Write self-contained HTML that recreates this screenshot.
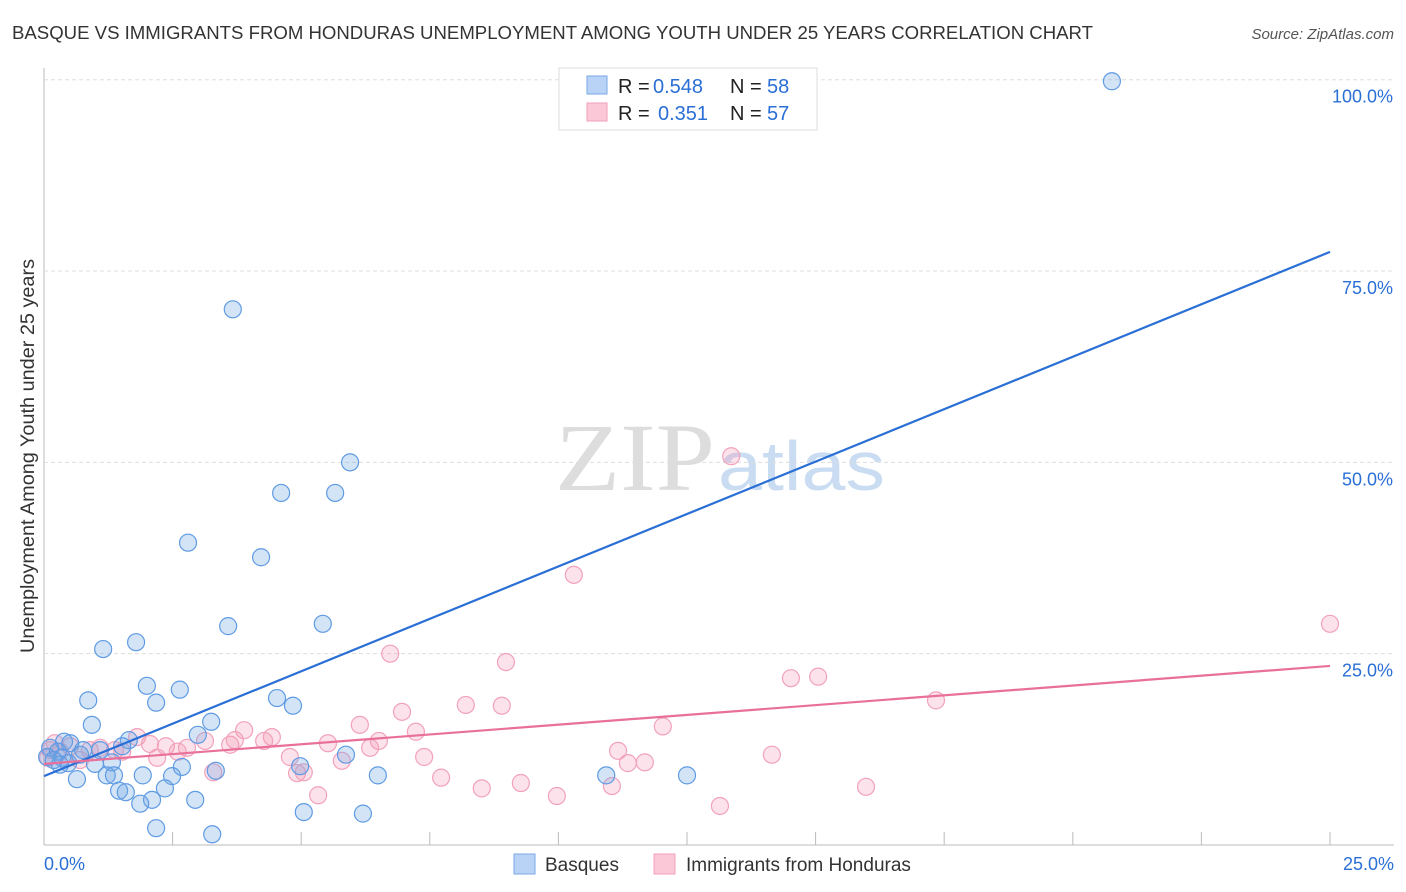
<!DOCTYPE html>
<html><head><meta charset="utf-8"><style>
body{margin:0;background:#fff;font-family:"Liberation Sans",sans-serif;}
svg{display:block}
</style></head><body>
<svg id="chart" width="1406" height="892">
<text x="12" y="39" font-size="18" fill="#333" textLength="1081" lengthAdjust="spacingAndGlyphs">BASQUE VS IMMIGRANTS FROM HONDURAS UNEMPLOYMENT AMONG YOUTH UNDER 25 YEARS CORRELATION CHART</text>
<text x="1394" y="39" font-size="15" fill="#555" font-style="italic" text-anchor="end">Source: ZipAtlas.com</text>
<text transform="translate(34,456) rotate(-90)" font-size="19" fill="#333" text-anchor="middle" textLength="394" lengthAdjust="spacingAndGlyphs">Unemployment Among Youth under 25 years</text>
<g><text x="555" y="490" font-size="96" fill="#ddd" font-family="Liberation Serif,serif" textLength="160" lengthAdjust="spacingAndGlyphs">ZIP</text><text x="718" y="490" font-size="70" fill="#c9dcf2" textLength="167" lengthAdjust="spacingAndGlyphs">atlas</text></g>
<g id="grid"></g><g id="pts"></g><g id="lines"></g>
<g>
<rect x="559" y="68" width="258" height="62" fill="#fff" stroke="#ddd"/>
<rect x="587" y="76" width="20" height="18" fill="#b8d3f5" stroke="#7aaae8"/>
<rect x="587" y="103" width="20" height="18" fill="#fbc8d8" stroke="#f0a0b8"/>
<text x="618" y="93" font-size="20" fill="#222">R =</text><text x="653" y="93" font-size="20" fill="#2a6fd6">0.548</text>
<text x="730" y="93" font-size="20" fill="#222">N =</text><text x="767" y="93" font-size="20" fill="#2a6fd6">58</text>
<text x="618" y="120" font-size="20" fill="#222">R =</text><text x="658" y="120" font-size="20" fill="#2a6fd6">0.351</text>
<text x="730" y="120" font-size="20" fill="#222">N =</text><text x="767" y="120" font-size="20" fill="#2a6fd6">57</text>
</g>
<g>
<rect x="514" y="854" width="21" height="20" fill="#b8d3f5" stroke="#7aaae8"/>
<text x="545" y="871" font-size="19" fill="#333">Basques</text>
<rect x="654" y="854" width="21" height="20" fill="#fbc8d8" stroke="#f0a0b8"/>
<text x="686" y="871" font-size="19" fill="#333">Immigrants from Honduras</text>
</g>
</svg>
<script>
const blueX=[20.76,3.67,5.95,4.61,5.66,2.80,4.22,3.58,5.42,1.79,1.15,2.00,2.64,0.86,2.18,4.53,4.84,0.93,3.25,2.99,1.65,1.52,0.39,0.51,0.12,0.27,0.76,1.09,0.06,0.35,1.32,0.99,0.47,2.68,5.87,3.34,1.22,1.36,1.92,2.49,6.49,10.93,12.50,0.64,2.35,1.46,1.59,2.10,1.87,2.94,5.05,6.20,2.18,3.27,4.98,0.31,0.19,0.70];
const blueY=[99.8,70.0,50.0,46.0,46.0,39.5,37.6,28.6,28.9,26.5,25.6,20.8,20.3,18.9,18.6,19.2,18.2,15.7,16.1,14.4,13.7,12.9,13.5,13.3,12.7,12.2,12.4,12.4,11.5,11.4,10.8,10.6,10.7,10.2,11.8,9.7,9.1,9.1,9.1,9.0,9.1,9.1,9.1,8.6,7.4,7.1,6.9,5.9,5.4,5.9,4.3,4.1,2.2,1.4,10.3,10.5,11.1,11.8];
const pinkX=[13.36,10.30,25.0,6.73,8.98,14.52,15.05,17.34,8.20,8.90,6.96,6.14,12.03,7.23,3.89,4.43,1.81,3.13,4.28,5.52,6.51,3.62,2.37,2.78,1.09,0.51,0.21,0.31,1.38,6.34,11.16,4.78,7.39,14.15,5.79,11.35,11.68,2.20,1.52,3.29,4.92,5.05,7.72,8.51,9.27,11.04,15.98,9.97,5.33,13.14,2.60,0.70,0.89,2.06,0.12,3.71,0.08];
const pinkY=[50.8,35.3,28.9,25.0,23.9,21.8,22.0,18.9,18.3,18.2,17.4,15.7,15.5,14.8,15.0,14.1,14.1,13.6,13.6,13.3,13.6,13.1,12.9,12.7,12.7,12.9,13.3,12.2,12.4,12.7,12.3,11.5,11.5,11.8,11.0,10.7,10.8,11.4,12.2,9.5,9.4,9.5,8.8,7.4,8.1,7.7,7.6,6.4,6.5,5.1,12.2,11.1,12.4,13.2,12.4,13.7,11.4];
const blueTrend=[9.0,77.5];
const pinkTrend=[10.6,23.4];
const yTicks=[25,50,75,100];
const yTickLabels=["25.0%","50.0%","75.0%","100.0%"];
const xTicks=[2.5,5,7.5,10,12.5,15,17.5,20,22.5,25];
const NS="http://www.w3.org/2000/svg";
const sx=v=>44+v/25*1286;
const sy=v=>845-v*7.653;
function mk(tag,attrs,parent){const e=document.createElementNS(NS,tag);for(const k in attrs)e.setAttribute(k,attrs[k]);parent.appendChild(e);return e;}
const grid=document.getElementById('grid');
let ax=mk('line',{x1:44,y1:68,x2:44,y2:845,stroke:'#bbb'},grid);


let bx=mk('line',{x1:44,y1:845,x2:1394,y2:845,stroke:'#bbb'},grid);


yTicks.forEach((t,i)=>{
 const g=mk('line',{x1:44,y1:sy(t),x2:1394,y2:sy(t),stroke:'#ddd','stroke-dasharray':'4 3'},grid);
 
 
 const l=mk('text',{x:1393,y:sy(t)+23,'font-size':18,fill:'#2a6fd6','text-anchor':'end'},grid);
 l.textContent=yTickLabels[i];
 
 
});
xTicks.forEach(t=>{
 const m=mk('line',{x1:sx(t),y1:832,x2:sx(t),y2:845,stroke:'#bbb'},grid);
 
 
});
let x0=mk('text',{x:44,y:870,'font-size':18,fill:'#2a6fd6'},grid);x0.textContent='0.0%';


let x1=mk('text',{x:1394,y:870,'font-size':18,fill:'#2a6fd6','text-anchor':'end'},grid);x1.textContent='25.0%';


const pts=document.getElementById('pts');
pinkX.forEach((x,i)=>{
 const c=mk('circle',{cx:sx(x),cy:sy(pinkY[i]),r:8.5,fill:'rgba(245,150,180,0.28)',stroke:'#f2a2bb','stroke-width':1.2},pts);
 
 
});
blueX.forEach((x,i)=>{
 const c=mk('circle',{cx:sx(x),cy:sy(blueY[i]),r:8.5,fill:'rgba(110,165,230,0.3)',stroke:'#5f9be3','stroke-width':1.2},pts);
 
 
});
const lines=document.getElementById('lines');
const bl=mk('line',{x1:sx(0),y1:sy(blueTrend[0]),x2:sx(25),y2:sy(blueTrend[1]),stroke:'#2a6fd6','stroke-width':2.2},lines);


const pl=mk('line',{x1:sx(0),y1:sy(pinkTrend[0]),x2:sx(25),y2:sy(pinkTrend[1]),stroke:'#e8709a','stroke-width':2.2},lines);


</script>
</body></html>
